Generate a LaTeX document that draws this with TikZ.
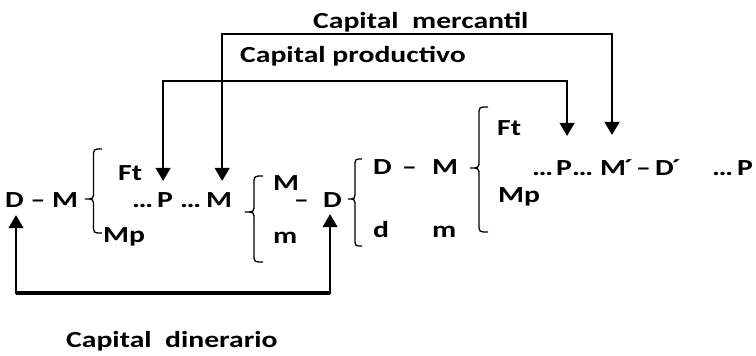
\documentclass[tikz,border=0pt]{standalone}
\usepackage{fontspec}
\newfontfamily\cf{Carlito}[FakeStretch=1.29]
\usetikzlibrary{arrows.meta,calc}
\newcommand\drawbrace[5]{% #1 x ends, #2 y top, #3 x tip, #4 y tip, #5 y bottom
  \draw[brc] (#1,#2) .. controls ({(#1+#3)/2},#2) .. ({(#1+#3)/2},#2+8)
    -- ({(#1+#3)/2},#4-8) .. controls ({(#1+#3)/2},#4) .. (#3,#4)
    .. controls ({(#1+#3)/2},#4) .. ({(#1+#3)/2},#4+8)
    -- ({(#1+#3)/2},#5-8) .. controls ({(#1+#3)/2},#5) .. (#1,#5);}
\begin{document}
\begin{tikzpicture}[x=1pt,y=-1pt,
  txt/.style={font=\cf\bfseries\fontsize{23}{24}\selectfont, inner sep=0pt, anchor=base west},
  ln/.style={line width=1.4pt},
  dbl/.style={ln, {Triangle[width=15pt,length=13pt]}-{Triangle[width=15pt,length=13pt]}},
  brc/.style={line width=1.3pt}]
\useasboundingbox (0,0) rectangle (756,356);
% first row
\node[txt] (dm1) at (5,207) {D – M};
\node[txt] (ft1) at (118,180) {Ft};
\node[txt] (mp1) at (103,242) {Mp};
\node[txt] (e1) at (132,207) {…};
\node[txt] (p1) at (157,207) {P};
\node[txt] (e2) at (180,207) {…};
\node[txt] (m1) at (206,207) {M};
\node[txt] (mm1) at (273,190) {M};
\node[txt] (dash1) at (294,207) {–};
\node[txt] (d1) at (323,207) {D};
\node[txt] (sm1) at (273,243) {m};
% second part
\node[txt] (d3) at (373,174) {D};
\node[txt] (dash2) at (402,174) {–};
\node[txt] (m3) at (432,174) {M};
\node[txt] (sd) at (373,237) {d};
\node[txt] (sm2) at (432,237) {m};
\node[txt] (ft2) at (497,135) {Ft};
\node[txt] (mp2) at (498,202) {Mp};
\node[txt] (e3) at (532,175) {…};
\node[txt] (p2) at (556,175) {P};
\node[txt] (e4) at (572,175) {…};
\node[txt] (m2) at (600,175) {M\kern-2pt´};
\node[txt] (dash3) at (636,175) {–};
\node[txt] (d4) at (655,175) {D\kern-2pt´};
\node[txt] (e5) at (712,175) {…};
\node[txt] (p3) at (737,175) {P};
% labels
\node[txt] (lm) at (313,28) {Capital\ \ mercantil};
\node[txt] (lp) at (240,62) {Capital productivo};
\node[txt] (ld) at (66,347) {Capital\ \ dinerario};
% braces
\drawbrace{102}{149}{85}{199}{233}
\drawbrace{263}{176}{245}{212}{262}
\drawbrace{362}{159}{348}{199}{246}
\drawbrace{488}{107}{470}{168}{232}
% connectors
\coordinate (tprod) at (0,81);
\coordinate (tmerc) at (0,34);
\coordinate (bdin) at (0,293);
\draw[dbl, shorten <=11pt, shorten >=24pt] ([xshift=-2pt]p1.north) -- ([xshift=-2pt]p1.north |- tprod) -| ([xshift=3pt]p2.north);
\draw[dbl, shorten <=11pt, shorten >=24pt] ([xshift=3pt]m1.north) -- ([xshift=3pt]m1.north |- tmerc) -| ([xshift=12pt]m2.north west);
\draw[line width=2pt] ([xshift=3pt]m1.north |- tmerc) -- ([xshift=12pt]m2.north west |- tmerc);
\draw[dbl, shorten <=8pt, shorten >=7pt] ([xshift=11pt]dm1.south west) -- ([xshift=11pt]dm1.south west |- bdin) -| ([xshift=-2.5pt]d1.south);
\draw[line width=3.2pt] ([xshift=11pt]dm1.south west |- bdin) -- ([xshift=-2.5pt]d1.south |- bdin);
\end{tikzpicture}
\end{document}
